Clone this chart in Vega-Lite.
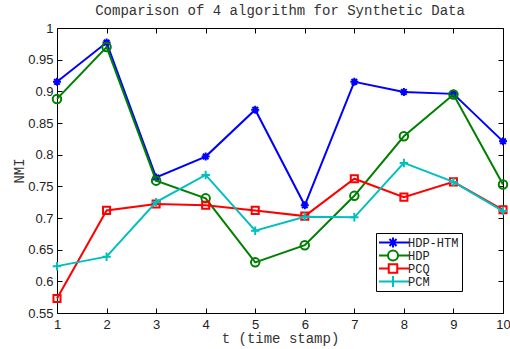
{
  "$schema": "https://vega.github.io/schema/vega-lite/v6.json",
  "autosize": "none",
  "width": 446,
  "height": 285,
  "padding": {"left": 57, "top": 28, "right": 7, "bottom": 36},
  "background": "white",
  "title": {"text": "Comparison of 4 algorithm for Synthetic Data", "font": "Liberation Mono", "fontSize": 14, "fontWeight": "normal", "color": "#333333", "offset": 4},
  "data": {"values": [
    {"t": 1, "series": "HDP-HTM", "nmi": 0.915}, {"t": 2, "series": "HDP-HTM", "nmi": 0.977}, {"t": 3, "series": "HDP-HTM", "nmi": 0.764}, {"t": 4, "series": "HDP-HTM", "nmi": 0.797}, {"t": 5, "series": "HDP-HTM", "nmi": 0.871}, {"t": 6, "series": "HDP-HTM", "nmi": 0.72}, {"t": 7, "series": "HDP-HTM", "nmi": 0.915}, {"t": 8, "series": "HDP-HTM", "nmi": 0.899}, {"t": 9, "series": "HDP-HTM", "nmi": 0.896}, {"t": 10, "series": "HDP-HTM", "nmi": 0.821},
    {"t": 1, "series": "HDP", "nmi": 0.888}, {"t": 2, "series": "HDP", "nmi": 0.97}, {"t": 3, "series": "HDP", "nmi": 0.759}, {"t": 4, "series": "HDP", "nmi": 0.731}, {"t": 5, "series": "HDP", "nmi": 0.63}, {"t": 6, "series": "HDP", "nmi": 0.657}, {"t": 7, "series": "HDP", "nmi": 0.735}, {"t": 8, "series": "HDP", "nmi": 0.829}, {"t": 9, "series": "HDP", "nmi": 0.895}, {"t": 10, "series": "HDP", "nmi": 0.753},
    {"t": 1, "series": "PCQ", "nmi": 0.573}, {"t": 2, "series": "PCQ", "nmi": 0.712}, {"t": 3, "series": "PCQ", "nmi": 0.722}, {"t": 4, "series": "PCQ", "nmi": 0.72}, {"t": 5, "series": "PCQ", "nmi": 0.712}, {"t": 6, "series": "PCQ", "nmi": 0.703}, {"t": 7, "series": "PCQ", "nmi": 0.762}, {"t": 8, "series": "PCQ", "nmi": 0.733}, {"t": 9, "series": "PCQ", "nmi": 0.757}, {"t": 10, "series": "PCQ", "nmi": 0.713},
    {"t": 1, "series": "PCM", "nmi": 0.624}, {"t": 2, "series": "PCM", "nmi": 0.639}, {"t": 3, "series": "PCM", "nmi": 0.725}, {"t": 4, "series": "PCM", "nmi": 0.768}, {"t": 5, "series": "PCM", "nmi": 0.68}, {"t": 6, "series": "PCM", "nmi": 0.702}, {"t": 7, "series": "PCM", "nmi": 0.701}, {"t": 8, "series": "PCM", "nmi": 0.787}, {"t": 9, "series": "PCM", "nmi": 0.757}, {"t": 10, "series": "PCM", "nmi": 0.711}
  ]},
  "config": {
    "view": {"stroke": null},
    "axis": {"grid": false, "domainColor": "#000000", "domainWidth": 1, "tickColor": "#000000", "tickSize": -5, "labelFont": "Liberation Sans", "labelFontSize": 13, "labelColor": "#222222", "titleFont": "Liberation Mono", "titleFontSize": 14, "titleFontWeight": "normal", "titleColor": "#333333"},
    "legend": {"strokeColor": "#000000", "strokeWidth": 1, "fillColor": "#ffffff", "padding": 3, "labelFont": "Liberation Mono", "labelFontSize": 12, "labelColor": "#222222", "rowPadding": 0, "clipHeight": 13, "labelOffset": 9, "symbolOffset": 8, "symbolStrokeWidth": 2}
  },
  "resolve": {"axis": {"x": "independent", "y": "independent"}},
  "layer": [
    {
      "transform": [{"filter": "datum.series === 'HDP-HTM'"}],
      "encoding": {
        "x": {"field": "t", "type": "quantitative", "scale": {"domain": [1, 10], "nice": false, "zero": false}, "axis": {"orient": "bottom", "values": [1,2,3,4,5,6,7,8,9,10], "title": "t (time stamp)", "labelPadding": 10, "titlePadding": 0, "labelFlush": false}},
        "y": {"field": "nmi", "type": "quantitative", "scale": {"domain": [0.55, 1], "nice": false, "zero": false}, "axis": {"orient": "left", "values": [0.55,0.6,0.65,0.7,0.75,0.8,0.85,0.9,0.95,1], "format": "~g", "title": "NMI", "labelPadding": 9, "titlePadding": 1}}
      },
      "layer": [
        {"mark": {"type": "line", "strokeWidth": 2, "color": "#0000ff"}},
        {"mark": {"type": "point", "filled": false, "shape": "M-1,0L1,0M0,-1L0,1M-0.7,-0.7L0.7,0.7M-0.7,0.7L0.7,-0.7", "size": 64, "strokeWidth": 2, "color": "#0000ff", "opacity": 1}}
      ]
    },
    {
      "transform": [{"filter": "datum.series === 'HDP'"}],
      "encoding": {"x": {"field": "t", "type": "quantitative", "axis": null}, "y": {"field": "nmi", "type": "quantitative", "axis": null}},
      "layer": [
        {"mark": {"type": "line", "strokeWidth": 2, "color": "#008000"}},
        {"mark": {"type": "point", "filled": false, "shape": "circle", "size": 72, "strokeWidth": 2, "color": "#008000", "opacity": 1}}
      ]
    },
    {
      "transform": [{"filter": "datum.series === 'PCQ'"}],
      "encoding": {"x": {"field": "t", "type": "quantitative", "axis": null}, "y": {"field": "nmi", "type": "quantitative", "axis": null}},
      "layer": [
        {"mark": {"type": "line", "strokeWidth": 2, "color": "#ff0000"}},
        {"mark": {"type": "point", "filled": false, "shape": "square", "size": 50, "strokeWidth": 2, "color": "#ff0000", "opacity": 1}}
      ]
    },
    {
      "transform": [{"filter": "datum.series === 'PCM'"}],
      "encoding": {"x": {"field": "t", "type": "quantitative", "axis": null}, "y": {"field": "nmi", "type": "quantitative", "axis": null}},
      "layer": [
        {"mark": {"type": "line", "strokeWidth": 2, "color": "#00bfbf"}},
        {"mark": {"type": "point", "filled": false, "shape": "M-1,0L1,0M0,-1L0,1", "size": 72, "strokeWidth": 2, "color": "#00bfbf", "opacity": 1}}
      ]
    },
    {
      "transform": [{"filter": "false"}],
      "mark": {"type": "point", "filled": false, "strokeWidth": 2, "opacity": 1},
      "encoding": {
        "x": {"field": "t", "type": "quantitative", "axis": {"orient": "top", "values": [1,2,3,4,5,6,7,8,9,10], "labels": false, "title": null}},
        "y": {"field": "nmi", "type": "quantitative", "axis": {"orient": "right", "values": [0.55,0.6,0.65,0.7,0.75,0.8,0.85,0.9,0.95,1], "labels": false, "title": null}},
        "color": {"field": "series", "type": "nominal", "scale": {"domain": ["HDP-HTM", "HDP", "PCQ", "PCM"], "range": ["#0000ff", "#008000", "#ff0000", "#00bfbf"]}, "legend": {"title": null, "orient": "none", "legendX": 319, "legendY": 205}},
        "shape": {"field": "series", "type": "nominal", "scale": {"domain": ["HDP-HTM", "HDP", "PCQ", "PCM"], "range": [
          "M-3.2,0L3.2,0M0,-1L0,1M-0.7,-0.7L0.7,0.7M-0.7,0.7L0.7,-0.7",
          "M-3.2,0L-1,0M1,0L3.2,0M-1,0A1,1 0 1 1 1,0A1,1 0 1 1 -1,0Z",
          "M-3.2,0L-0.85,0M0.85,0L3.2,0M-0.85,-0.85L0.85,-0.85L0.85,0.85L-0.85,0.85Z",
          "M-3.2,0L3.2,0M0,-1.1L0,1.1"
        ]}, "legend": {"title": null, "orient": "none", "legendX": 319, "legendY": 205}},
        "size": {"value": 49}
      }
    }
  ]
}
